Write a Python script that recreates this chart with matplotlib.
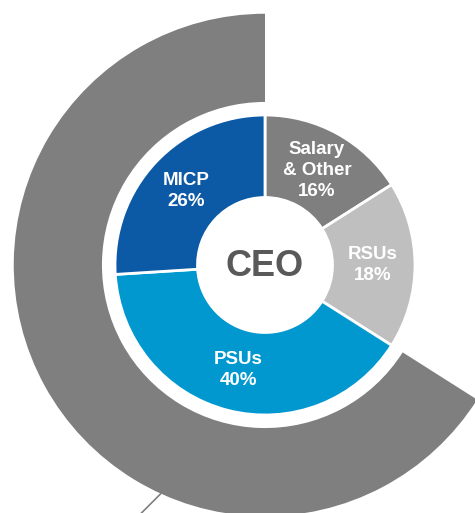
import numpy as np
import matplotlib.pyplot as plt

# Pay mix data (inner ring, clockwise from 12 o'clock)
categories = ['Salary\n& Other', 'RSUs', 'PSUs', 'MICP']
shares = [16, 18, 40, 26]
colors = ['#7f7f7f', '#bfbfbf', '#0098cf', '#0c59a6']

# Outer ring: performance-based share (PSUs + MICP)
perf_share = [66, 34]

plt.rcParams['font.family'] = ['Liberation Sans', 'DejaVu Sans']

fig = plt.figure(figsize=(4.75, 5.13), dpi=100)
ax = fig.add_axes([0, 0, 1, 1])
ax.set_aspect('equal')

# Outer gray partial ring, counterclockwise from the top
ax.pie(perf_share, radius=1.675, startangle=90, counterclock=True,
       colors=['#7f7f7f', 'none'],
       wedgeprops=dict(width=1.675 - 1.087, linewidth=0))

# Inner donut
wedges, _ = ax.pie(shares, radius=1.0, startangle=90, counterclock=False,
                   colors=colors,
                   wedgeprops=dict(width=1.0 - 0.45, edgecolor='white', linewidth=2))

# Labels inside each wedge
for w, cat, val in zip(wedges, categories, shares):
    mid = np.deg2rad((w.theta1 + w.theta2) / 2)
    r = 0.72
    ax.text(r * np.cos(mid), r * np.sin(mid), f'{cat}\n{val}%',
            ha='center', va='center', color='white', fontsize=13.5,
            fontweight='bold', linespacing=1.3)

ax.text(0, -0.01, 'CEO', ha='center', va='center', color='#595959',
        fontsize=26, fontweight='bold')

# Leader line from the outer ring (label off the image)
ang = np.deg2rad(245.5)
r0 = 1.675
x0, y0 = r0 * np.cos(ang), r0 * np.sin(ang)
ax.plot([x0, x0 - 0.3], [y0, y0 - 0.3], color='#7f7f7f', linewidth=1.2)

ax.set_xlim(-265 / 150, 210 / 150)
ax.set_ylim(-248 / 150, 265 / 150)
ax.axis('off')

fig.savefig('out.png', dpi=100, facecolor='white')
